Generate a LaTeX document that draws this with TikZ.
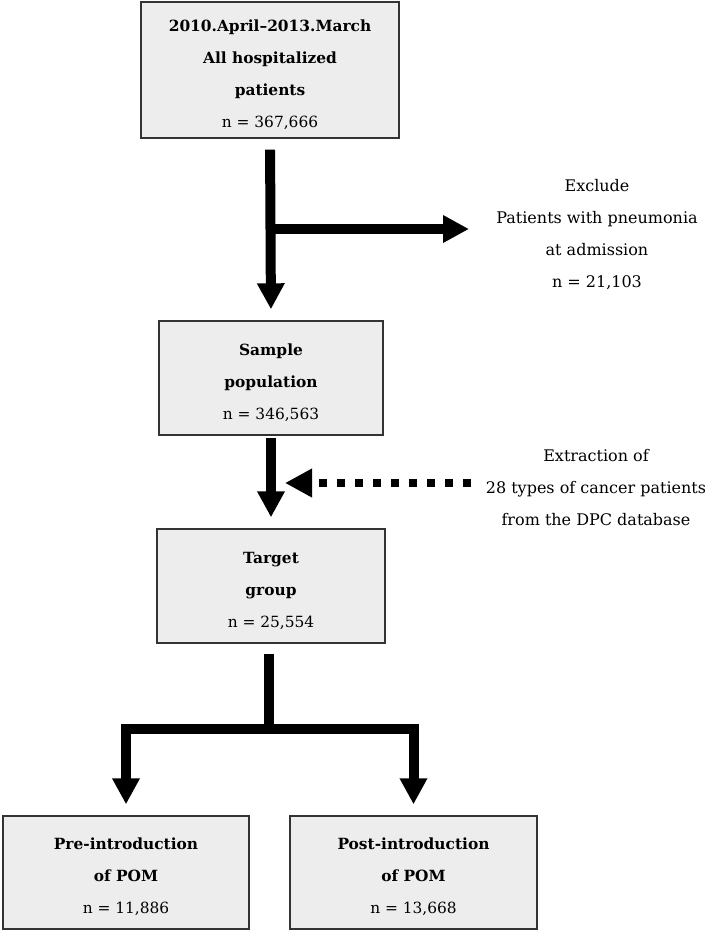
\documentclass[tikz,border=0pt]{standalone}
\usepackage{fontspec}
\setmainfont{DejaVu Serif}
\usetikzlibrary{arrows.meta}
\newcommand{\upstrut}{\rule{0pt}{21pt}}
\tikzset{
  box/.style={draw=black!80, line width=1.4pt, fill=black!7, align=center, inner sep=0pt,
    font=\fontsize{15.4}{32}\selectfont},
  note/.style={align=center, inner sep=0pt, font=\fontsize{16}{32}\selectfont},
  fat/.style={line width=10pt, line join=miter, draw=black},
  bigtip/.style={-{Triangle[width=26pt,length=26pt]}},
  dotarrow/.style={line width=8pt, draw=black, dash pattern=on 8pt off 10pt,
    -{Triangle[width=27pt,length=27pt]}}
}
\begin{document}
\begin{tikzpicture}[x=1pt,y=-1pt]
\useasboundingbox (0,0) rectangle (709,932);
% boxes
\node[box, minimum width=258pt, minimum height=136pt] (top) at (270,70)
  {\upstrut\textbf{2010.April–2013.March}\\\textbf{All hospitalized}\\\textbf{patients}\\n = 367,666};
\node[box, minimum width=224pt, minimum height=114pt] (sample) at (271,378)
  {\upstrut\textbf{Sample}\\\textbf{population}\\n = 346,563};
\node[box, minimum width=228pt, minimum height=114pt] (target) at (271,586)
  {\upstrut\textbf{Target}\\\textbf{group}\\n = 25,554};
\node[box, minimum width=246pt, minimum height=113pt] (pre) at (126,872.5)
  {\upstrut\textbf{Pre-introduction}\\\textbf{of POM}\\n = 11,886};
\node[box, minimum width=247pt, minimum height=113pt] (post) at (413.5,872.5)
  {\upstrut\textbf{Post-introduction}\\\textbf{of POM}\\n = 13,668};
% side notes
\node[note] (excl) at (597,235)
  {Exclude\\Patients with pneumonia\\at admission\\n = 21,103};
\node[note] (extr) at (596,488)
  {Extraction of\\28 types of cancer patients\\from the DPC database};
% coordinates
\coordinate (br) at (271,229);
\coordinate (brend) at (469,229);
\coordinate (dstart) at (471,483);
\coordinate (dend) at (285,483);
\coordinate (split) at (269,729);
% connectors
\draw[fat, bigtip, shorten <=11pt, shorten >=11pt] (top.south) -- (sample.north);
\draw[fat, bigtip] (br) -- (brend);
\draw[fat, bigtip, shorten <=2pt, shorten >=11pt] (sample.south) -- (target.north);
\draw[dotarrow] (dstart) -- (dend);
\draw[fat, shorten <=10pt] (target.south -| split) -- (split);
\draw[fat, bigtip, shorten >=11pt] (split) -| (pre.north);
\draw[fat, bigtip, shorten >=11pt] (split) -| (post.north);
\end{tikzpicture}
\end{document}
